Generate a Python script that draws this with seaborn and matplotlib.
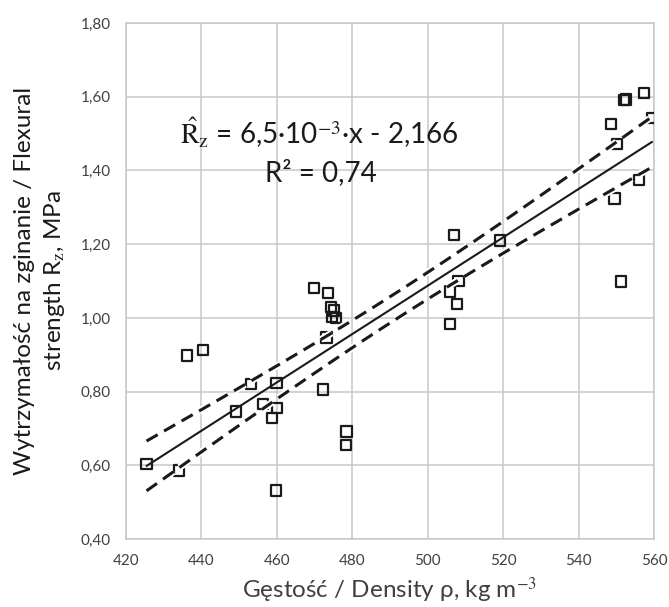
import numpy as np
import seaborn as sns
import matplotlib.pyplot as plt
import matplotlib.patheffects as pe
import pandas as pd

# density [kg m-3] and flexural strength [MPa]
density = [425.5, 434.1, 436.3, 440.4, 449.2, 453.1, 456.4, 458.7, 459.9, 460.1,
           459.8, 469.8, 472.3, 473.2, 473.5, 474.3, 475.2, 474.7, 475.7, 478.5,
           478.3, 505.9, 507.7, 505.9, 508.1, 506.9, 519.2, 548.6, 549.5, 550.1,
           551.2, 551.9, 552.6, 555.9, 557.2, 559.4]
strength = [0.603, 0.586, 0.898, 0.913, 0.746, 0.821, 0.767, 0.729, 0.824, 0.756,
            0.532, 1.082, 0.806, 0.947, 1.067, 1.029, 1.020, 1.002, 1.000, 0.692,
            0.656, 1.072, 1.038, 0.984, 1.101, 1.224, 1.210, 1.527, 1.324, 1.471,
            1.099, 1.591, 1.593, 1.374, 1.611, 1.543]

x_ticks = [420, 440, 460, 480, 500, 520, 540, 560]
y_ticks = [0.40, 0.60, 0.80, 1.00, 1.20, 1.40, 1.60, 1.80]

df = pd.DataFrame({'density': density, 'strength': strength})

sns.set_style('whitegrid')
plt.rcParams['font.family'] = ['Lato', 'DejaVu Sans']
plt.rcParams['mathtext.fontset'] = 'stix'

fig = plt.figure(figsize=(6.69, 6.07), dpi=100)
ax = fig.add_axes([0.188, 0.112, 0.790, 0.850])

# linear fit and confidence band of the mean
x = df['density'].to_numpy()
y = df['strength'].to_numpy()
b, a = np.polyfit(x, y, 1)
n = len(x)
resid = y - (a + b * x)
s = np.sqrt(np.sum(resid ** 2) / (n - 2))
xs = np.linspace(x.min(), x.max(), 200)
yfit = a + b * xs
se = s * np.sqrt(1 / n + (xs - x.mean()) ** 2 / np.sum((x - x.mean()) ** 2))
t = 1.47

sns.scatterplot(data=df, x='density', y='strength', marker='s', s=55,
                facecolor='none', edgecolor='#1a1a1a', linewidth=1.6, ax=ax, zorder=3)
white = [pe.withStroke(linewidth=5, foreground='white')]
sns.lineplot(x=xs, y=yfit, color='#1a1a1a', lw=1.5, ax=ax, zorder=4)
for band in (yfit + t * se, yfit - t * se):
    ln, = ax.plot(xs, band, color='#1a1a1a', lw=2.2, ls=(0, (4.2, 2.4)), zorder=4)
    ln.set_path_effects(white)

ax.set_xlim(420, 560)
ax.set_ylim(0.40, 1.80)
ax.set_xticks(x_ticks)
ax.set_yticks(y_ticks)
ax.set_xticklabels([str(v) for v in x_ticks])
ax.set_yticklabels([f'{v:.2f}'.replace('.', ',') for v in y_ticks])
ax.tick_params(colors='#404040', labelsize=11, length=0, pad=11)
ax.grid(True, color='#c8c8c8', lw=1.1)
for sp in ax.spines.values():
    sp.set_color('#c8c8c8')
    sp.set_linewidth(1.1)

ax.set_xlabel('Gęstość / Density ρ, kg m$^{-3}$', fontsize=17.5, color='#404040')
ax.xaxis.set_label_coords(0.5, -0.099)
ax.xaxis.label.set_va('center')
ax.set_ylabel('Wytrzymałość na zginanie / Flexural\nstrength R$_\\mathrm{z}$, MPa',
              fontsize=17.5, color='#1a1a1a', linespacing=1.35)
ax.yaxis.set_label_coords(-0.161, 0.5)
ax.yaxis.label.set_va('center')

ax.text(434.3, 1.503, '$\\hat{\\mathrm{R}}_\\mathrm{z}$ = 6,5·10$^{-3}$·x - 2,166',
        fontsize=20, color='#1a1a1a', va='center', ha='left')
ax.text(456.9, 1.395, 'R² = 0,74', fontsize=20, color='#1a1a1a', va='center', ha='left')

fig.savefig('out.png', dpi=100)
